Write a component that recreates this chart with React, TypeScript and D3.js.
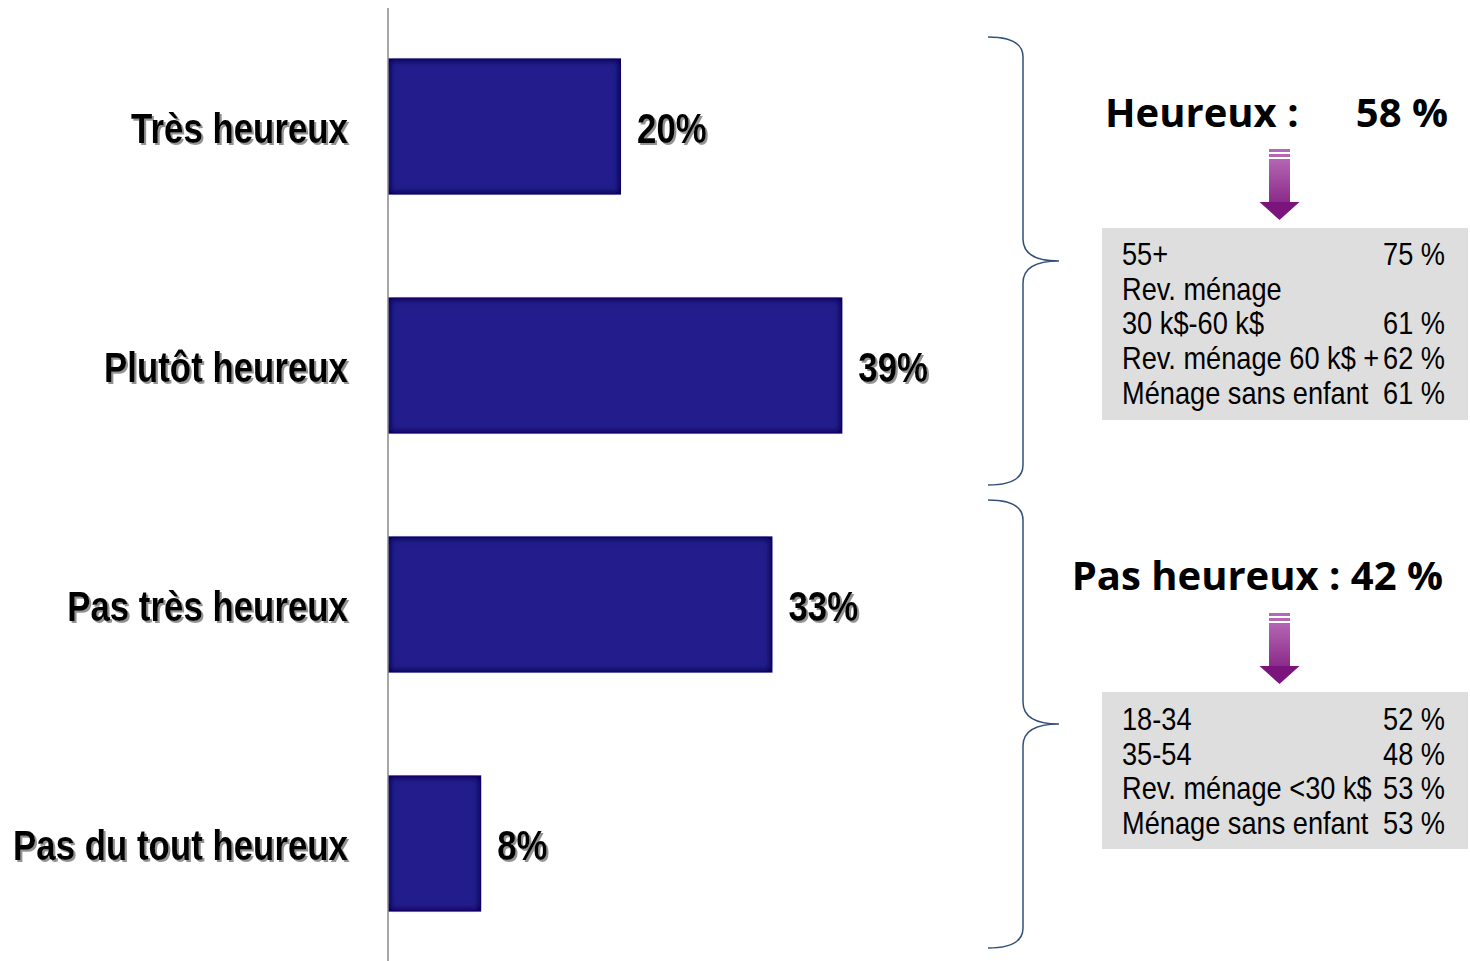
import * as d3 from 'd3';

// Bars
const categories = ['Très heureux', 'Plutôt heureux', 'Pas très heureux', 'Pas du tout heureux'];
const values = [20, 39, 33, 8];

// Right-hand groups
const groupTitles = ['Heureux :', 'Pas heureux :'];
const groupTotals = ['58 %', '42 %'];
const happyRows = ['55+', 'Rev. ménage', '30 k$-60 k$', 'Rev. ménage 60 k$ +', 'Ménage sans enfant'];
const happyRowValues = ['75 %', '', '61 %', '62 %', '61 %'];
const unhappyRows = ['18-34', '35-54', 'Rev. ménage <30 k$', 'Ménage sans enfant'];
const unhappyRowValues = ['52 %', '48 %', '53 %', '53 %'];

const W = 1470;
const H = 961;
const AXIS_X = 388;
// no narrow face installed: squeeze Liberation Sans horizontally instead
const NARROW = '"Liberation Sans", Arial, sans-serif';
const TITLE_FONT = '"Open Sans", "Noto Sans", sans-serif';

const x = d3.scaleLinear().domain([0, 40]).range([AXIS_X, AXIS_X + 466]);
const y = d3.scaleBand<string>().domain(categories).range([7, 963]).paddingInner(0.43).paddingOuter(0.215);

// brace: top end, tip, bottom end
const bracePath = (top: number, bottom: number) => {
  const mid = (top + bottom) / 2;
  const x0 = 988, xv = 1023, xt = 1059;
  const p = d3.path();
  p.moveTo(x0, top);
  p.bezierCurveTo(1010, top, xv, top + 6, xv, top + 20);
  p.lineTo(xv, mid - 22);
  p.bezierCurveTo(xv, mid - 8, 1035, mid, xt, mid);
  p.bezierCurveTo(1035, mid, xv, mid + 8, xv, mid + 22);
  p.lineTo(xv, bottom - 20);
  p.bezierCurveTo(xv, bottom - 6, 1010, bottom, x0, bottom);
  return p.toString();
};

const Narrow = ({ x, y, anchor = 'start', squeeze = 0.83, children }: { x: number; y: number; anchor?: string; squeeze?: number; children: any }) => (
  <text transform={`translate(${x},${y}) scale(${squeeze},1)`} textAnchor={anchor}>{children}</text>
);

const Arrow = ({ top }: { top: number }) => {
  const cx = 1279.5;
  const head = d3.path();
  head.moveTo(cx - 20, top + 53);
  head.lineTo(cx + 20, top + 53);
  head.lineTo(cx, top + 71);
  head.closePath();
  return (
    <g>
      <rect x={cx - 10.5} y={top} width={21} height={3} fill="#b567b5" />
      <rect x={cx - 10.5} y={top + 5} width={21} height={3} fill="#b567b5" />
      <rect x={cx - 10.5} y={top + 10} width={21} height={44} fill="url(#arrowGrad)" />
      <path d={head.toString()} fill="#7c157b" />
    </g>
  );
};

const InfoBox = ({ top, height, rows, vals, firstBaseline }: { top: number; height: number; rows: string[]; vals: string[]; firstBaseline: number }) => (
  <g>
    <rect x={1102} y={top} width={366} height={height} fill="#dedede" />
    {rows.map((r, i) => (
      <g key={i} fontFamily={NARROW} fontSize={32} fill="#000">
        <Narrow x={1122} y={firstBaseline + i * 34.7} squeeze={0.85}>{r}</Narrow>
        <Narrow x={1445} y={firstBaseline + i * 34.7} anchor="end" squeeze={0.85}>{vals[i]}</Narrow>
      </g>
    ))}
  </g>
);

export default function App() {
  return (
    <svg width={W} height={H} style={{ position: 'absolute', left: 0, top: 0, background: '#fff' }}>
      <defs>
        <filter id="shadow" x="-10%" y="-20%" width="120%" height="140%">
          <feDropShadow dx={2} dy={2} stdDeviation={0.6} floodColor="#777" floodOpacity={0.8} />
        </filter>
        <filter id="barEdge">
          <feMorphology in="SourceAlpha" operator="erode" radius={4} result="inner" />
          <feGaussianBlur in="inner" stdDeviation={2.5} result="blur" />
          <feFlood floodColor="#221f8c" />
          <feComposite in2="blur" operator="in" result="center" />
          <feMerge>
            <feMergeNode in="SourceGraphic" />
            <feMergeNode in="center" />
          </feMerge>
        </filter>
        <linearGradient id="arrowGrad" x1="0" y1="0" x2="0" y2="1">
          <stop offset="0" stopColor="#b466b4" />
          <stop offset="1" stopColor="#8a2a89" />
        </linearGradient>
      </defs>

      {/* bars */}
      {categories.map((c, i) => (
        <rect
          key={c}
          x={x(0)}
          y={y(c)}
          width={x(values[i]) - x(0)}
          height={y.bandwidth()}
          fill="#141163"
          filter="url(#barEdge)"
        />
      ))}

      <line x1={AXIS_X} x2={AXIS_X} y1={8} y2={H} stroke="#8a8a8a" strokeWidth={1.5} />

      {/* category labels */}
      {categories.map((c, i) => {
        const cy = (y(c) ?? 0) + y.bandwidth() / 2 + 16;
        return (
          <g key={c} fontFamily={NARROW} fontWeight="bold" fontSize={42} fill="#000" filter="url(#shadow)">
            <Narrow x={348} y={cy} anchor="end">{c}</Narrow>
            <Narrow x={x(values[i]) + 16} y={cy}>{values[i]}%</Narrow>
          </g>
        );
      })}

      {/* braces */}
      <path d={bracePath(37, 485)} fill="none" stroke="#33507a" strokeWidth={1.5} />
      <path d={bracePath(500, 948)} fill="none" stroke="#33507a" strokeWidth={1.5} />

      {/* group titles */}
      <g fontFamily={TITLE_FONT} fontWeight="bold" fontSize={40} fill="#000">
        <text x={1105} y={127}>{groupTitles[0]}</text>
        <text x={1448} y={127} textAnchor="end">{groupTotals[0]}</text>
        <text x={1443} y={590} textAnchor="end">{`${groupTitles[1]} ${groupTotals[1]}`}</text>
      </g>

      <Arrow top={149} />
      <Arrow top={613} />

      <InfoBox top={228} height={192} rows={happyRows} vals={happyRowValues} firstBaseline={265} />
      <InfoBox top={692} height={157} rows={unhappyRows} vals={unhappyRowValues} firstBaseline={730} />
    </svg>
  );
}
